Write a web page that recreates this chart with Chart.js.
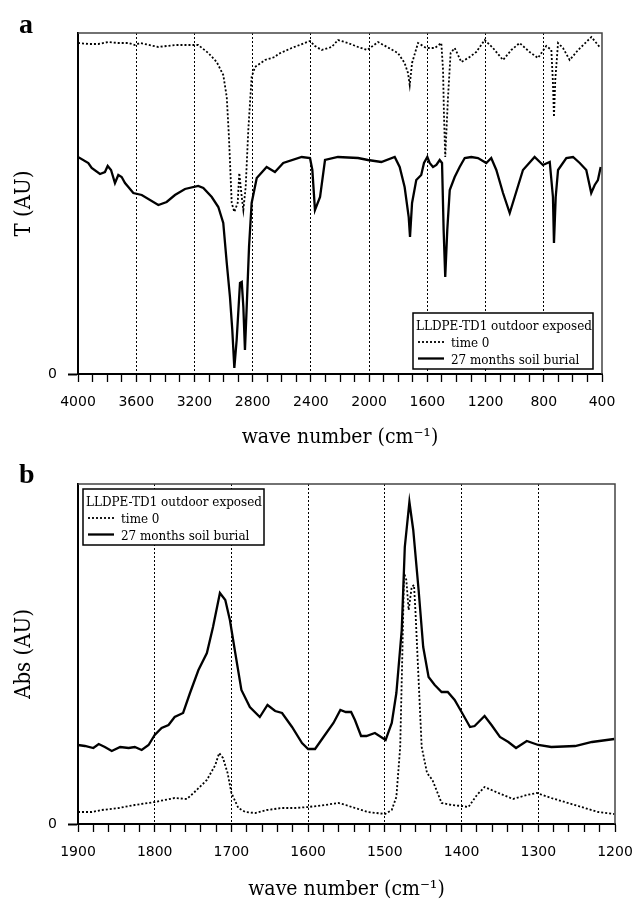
<!DOCTYPE html>
<html>
<head>
<meta charset="utf-8">
<script src="https://cdn.jsdelivr.net/npm/chart.js@4/dist/chart.umd.min.js"></script>
<style>
  body { margin: 0; background: #fff; width: 635px; height: 904px; position: relative; overflow: hidden; }
  .panel { position: absolute; left: 0; width: 635px; height: 452px; }
  .tag { position: absolute; font: bold 28px "Liberation Serif", serif; line-height: 28px; color: #000; }
</style>
</head>
<body>
<div class="panel" style="top:0"><canvas id="chartA"></canvas></div>
<div class="panel" style="top:452px"><canvas id="chartB"></canvas></div>
<div class="tag" style="left:19px;top:10px">a</div>
<div class="tag" style="left:19px;top:460px">b</div>
<script>
// panel a: transmittance spectra (arbitrary units)
var aWaveT0 = [4000, 3929, 3861, 3792, 3723, 3654, 3608, 3574, 3448, 3334, 3174, 3105, 3047, 3002, 2978, 2963, 2944, 2926, 2903, 2892,
  2875, 2864, 2848, 2830, 2807, 2784, 2715, 2647, 2624, 2532, 2406, 2372, 2326, 2257, 2214, 2145, 2076, 2012, 1939, 1802,
  1756, 1733, 1721, 1705, 1664, 1607, 1549, 1504, 1492, 1486, 1477, 1458, 1440, 1412, 1389, 1367, 1309, 1264, 1206, 1149,
  1080, 1023, 966, 897, 840, 783, 748, 737, 730, 721, 702, 668, 622, 564, 473, 416];
var aTransT0 = [331, 330, 330, 332, 331, 331, 329, 331, 327, 329, 329, 321, 312, 299, 277, 237, 171, 162, 171, 201,
  177, 164, 187, 244, 297, 307, 314, 317, 320, 326, 333, 328, 324, 327, 334, 331, 327, 324, 332, 321,
  311, 301, 289, 311, 331, 326, 326, 331, 304, 261, 217, 277, 321, 326, 319, 312, 317, 322, 334, 326,
  314, 324, 331, 322, 316, 328, 324, 291, 257, 294, 331, 326, 314, 324, 337, 327];

var aWave27 = [4000, 3929, 3906, 3849, 3815, 3796, 3773, 3746, 3723, 3700, 3677, 3654, 3620, 3562, 3448, 3391, 3334, 3265, 3174, 3139,
  3081, 3036, 3002, 2978, 2956, 2940, 2926, 2910, 2887, 2875, 2864, 2853, 2841, 2825, 2807, 2772, 2704, 2647, 2590, 2463,
  2406, 2390, 2372, 2337, 2303, 2214, 2076, 2008, 1916, 1824, 1790, 1756, 1728, 1719, 1705, 1676, 1642, 1623, 1600, 1584,
  1561, 1538, 1515, 1499, 1488, 1477, 1463, 1446, 1412, 1378, 1343, 1298, 1252, 1195, 1161, 1126, 1080, 1034, 1000, 943,
  863, 806, 759, 737, 730, 718, 702, 645, 599, 553, 508, 474, 450, 428, 409];
var aTrans27 = [217, 211, 206, 200, 202, 208, 204, 191, 199, 197, 191, 187, 181, 179, 169, 172, 179, 185, 188, 186,
  177, 167, 151, 111, 77, 44, 6, 34, 91, 92, 67, 24, 67, 127, 171, 196, 207, 202, 211, 217,
  216, 204, 164, 177, 214, 217, 216, 214, 212, 217, 207, 187, 157, 137, 171, 194, 199, 211, 217, 211,
  207, 209, 214, 211, 144, 97, 144, 184, 197, 207, 216, 217, 216, 211, 216, 204, 181, 161, 177, 204,
  217, 209, 212, 177, 131, 177, 204, 216, 217, 211, 204, 181, 189, 194, 207];

// panel b: absorbance spectra (arbitrary units)
var bWaveT0 = [1900, 1882, 1869, 1847, 1826, 1800, 1787, 1774, 1758, 1748, 1732, 1721, 1716, 1711, 1705, 1700, 1691, 1682, 1669, 1654,
  1634, 1617, 1600, 1578, 1561, 1551, 1539, 1522, 1500, 1491, 1485, 1480, 1477, 1475, 1472, 1469, 1465, 1462, 1460, 1456,
  1452, 1445, 1438, 1426, 1413, 1400, 1391, 1380, 1370, 1352, 1333, 1315, 1302, 1283, 1248, 1222, 1201];
var bAbsT0 = [12, 12, 14, 16, 19, 22, 24, 26, 25, 32, 44, 59, 71, 66, 51, 31, 16, 12, 11, 14,
  16, 16, 17, 19, 21, 19, 16, 12, 10, 14, 27, 77, 177, 251, 244, 214, 237, 239, 211, 144,
  77, 51, 44, 21, 19, 18, 17, 29, 37, 31, 25, 29, 31, 26, 18, 12, 10];

var bWave27 = [1900, 1891, 1880, 1873, 1865, 1856, 1845, 1834, 1826, 1817, 1808, 1800, 1791, 1782, 1774, 1763, 1754, 1743, 1732, 1724,
  1715, 1708, 1702, 1695, 1687, 1676, 1663, 1653, 1643, 1634, 1621, 1608, 1600, 1591, 1580, 1567, 1558, 1551, 1544, 1539,
  1531, 1524, 1513, 1499, 1491, 1485, 1478, 1474, 1468, 1463, 1456, 1450, 1443, 1435, 1426, 1418, 1409, 1400, 1389, 1383,
  1370, 1361, 1350, 1339, 1329, 1315, 1300, 1283, 1252, 1230, 1201];
var bAbs27 = [79, 78, 76, 80, 77, 73, 77, 76, 77, 74, 79, 89, 96, 99, 107, 111, 131, 154, 171, 197,
  231, 224, 204, 171, 134, 117, 107, 119, 113, 111, 97, 81, 75, 75, 87, 101, 114, 112, 112, 104,
  88, 88, 91, 84, 101, 131, 194, 277, 322, 294, 234, 177, 147, 139, 132, 132, 124, 112, 97, 98,
  108, 99, 87, 82, 76, 83, 79, 77, 78, 82, 85];

var legendTitle = 'LLDPE-TD1 outdoor exposed';
var seriesLabels = ['time 0', '27 months soil burial'];

var SERIF = "'DejaVu Serif Condensed', 'DejaVu Serif', serif";
var SANS = "'DejaVu Sans', sans-serif";

function pairs(xs, ys) {
    return xs.map(function (x, i) { return {x: x, y: ys[i]}; });
}

var framePlugin = {
    id: 'frame',
    afterDraw: function (chart) {
        var a = chart.chartArea, ctx = chart.ctx;
        ctx.save();
        ctx.strokeStyle = '#444';
        ctx.lineWidth = 1.5;
        ctx.beginPath();
        ctx.moveTo(a.left, a.top);
        ctx.lineTo(a.right, a.top);
        ctx.lineTo(a.right, a.bottom);
        ctx.stroke();
        ctx.restore();
    }
};

var boxLegend = {
    id: 'boxLegend',
    afterDraw: function (chart, args, o) {
        var ctx = chart.ctx;
        ctx.save();
        ctx.fillStyle = '#fff';
        ctx.fillRect(o.x, o.y, o.w, o.h);
        ctx.strokeStyle = '#000';
        ctx.lineWidth = 1.5;
        ctx.strokeRect(o.x, o.y, o.w, o.h);
        ctx.fillStyle = '#000';
        ctx.font = '13.3px ' + SERIF;
        ctx.fillText(legendTitle, o.x + 3, o.y + 17);
        chart.data.datasets.forEach(function (d, i) {
            var yy = o.y + 29 + i * 16.5;
            ctx.beginPath();
            ctx.setLineDash(d.borderDash || []);
            ctx.lineWidth = d.borderWidth;
            ctx.moveTo(o.x + 5, yy);
            ctx.lineTo(o.x + 31, yy);
            ctx.stroke();
            ctx.setLineDash([]);
            ctx.fillText(d.label, o.x + 38, yy + 5);
        });
        ctx.restore();
    }
};

function xAxis(min, max, step, major, boxHeight) {
    return {
        type: 'linear', reverse: true, min: min, max: max,
        afterFit: function (s) { s.height = boxHeight; s.paddingLeft = 0; s.paddingRight = 0; },
        ticks: {
            stepSize: step, autoSkip: false, maxRotation: 0, padding: 12, color: '#000',
            font: {family: SANS, size: 14},
            callback: function (v) { return v % major === 0 ? String(v) : ''; }
        },
        grid: {
            color: function (c) {
                var v = c.tick ? c.tick.value : null;
                return (v !== null && v % major === 0 && v !== min && v !== max) ? '#000' : 'rgba(0,0,0,0)';
            },
            tickColor: '#000', tickLength: 8, lineWidth: 1, tickWidth: 1.3
        },
        border: {color: '#000', width: 2, dash: [2, 2]},
        title: {
            display: true, text: 'wave number (cm\u207B\u00B9)', color: '#000',
            font: {family: SERIF, size: 21}, padding: {top: 0, bottom: 2}
        }
    };
}

function yAxis(max, title) {
    return {
        type: 'linear', min: 0, max: max,
        afterFit: function (s) { s.width = 78; s.paddingTop = 0; s.paddingBottom = 0; },
        afterBuildTicks: function (s) { s.ticks = [{value: 0}]; },
        ticks: {padding: 11, color: '#000', font: {family: SANS, size: 14}, callback: function (v) { return String(v); }},
        grid: {drawOnChartArea: false, tickLength: 10, tickColor: '#000', tickWidth: 2},
        border: {color: '#000', width: 2},
        title: {display: true, text: title, color: '#000', font: {family: SERIF, size: 22}, padding: {top: 11, bottom: 0}}
    };
}

function datasets(w0, v0, w1, v1) {
    return [
        {label: seriesLabels[0], data: pairs(w0, v0), borderColor: '#000', borderWidth: 1.8, borderDash: [2, 2],
            pointRadius: 0, tension: 0, fill: false},
        {label: seriesLabels[1], data: pairs(w1, v1), borderColor: '#000', borderWidth: 2.3,
            pointRadius: 0, tension: 0, fill: false}
    ];
}

function spectrum(id, ds, xs, ys, pad, legendBox) {
    return new Chart(document.getElementById(id), {
        type: 'line',
        data: {datasets: ds},
        options: {
            responsive: true, maintainAspectRatio: false, animation: false,
            layout: {padding: pad},
            plugins: {legend: {display: false}, tooltip: {enabled: false}, boxLegend: legendBox},
            scales: {x: xs, y: ys}
        },
        plugins: [framePlugin, boxLegend]
    });
}

spectrum('chartA', datasets(aWaveT0, aTransT0, aWave27, aTrans27),
    xAxis(400, 4000, 100, 400, 78), yAxis(341, 'T (AU)'),
    {left: 0, right: 33, top: 33, bottom: 0},
    {x: 413, y: 313, w: 180, h: 56});

spectrum('chartB', datasets(bWaveT0, bAbsT0, bWave27, bAbs27),
    xAxis(1200, 1900, 20, 100, 80), yAxis(340, 'Abs (AU)'),
    {left: 0, right: 20, top: 32, bottom: 0},
    {x: 83, y: 37, w: 181, h: 56});
</script>
</body>
</html>
